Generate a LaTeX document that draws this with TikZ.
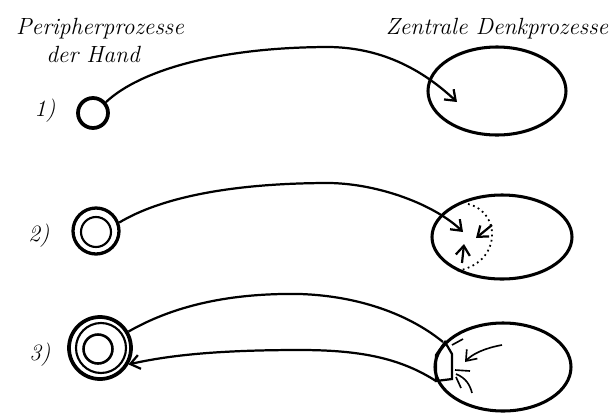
\documentclass[tikz,border=0pt]{standalone}
\usepackage{tikz}
\usetikzlibrary{shapes.geometric,arrows.meta}

\begin{document}
\begin{tikzpicture}[x=.03cm,y=-.03cm,line width=1.9pt,font=\fontsize{20}{24}\selectfont\itshape,
  hand/.style={circle,draw,line width=3.2pt,inner sep=0pt},
  ring/.style={circle,draw,line width=1.8pt,inner sep=0pt},
  denk/.style={ellipse,draw,line width=2.6pt,inner sep=0pt},
  pfeil/.style={-{Straight Barb[length=8pt,width=12pt]}},
  lbl/.style={inner sep=0pt}]
\useasboundingbox (0,0) rectangle (616,412);
\node[lbl] (titelL) at (100,29) {Peripherprozesse};
\node[lbl] (titelL2) at (93,54) {der Hand};
\node[lbl] (titelR) at (497,29) {Zentrale Denkprozesse};
% 1)
\node[lbl] (nr1) at (45,111) {1)};
\node[hand,minimum size=.9cm] (hand1) at (93,113) {};
\node[denk,minimum width=4.14cm,minimum height=2.64cm] (denk1) at (497,91) {};
\coordinate (ziel1) at (457,102);
\draw[pfeil] (hand1.40) .. controls (140,70) and (220,47) .. (330,47) .. controls (385,48) and (425,72) .. (ziel1);
% 2)
\node[lbl] (nr2) at (39,236) {2)};
\node[hand,line width=2.8pt,minimum size=1.38cm] (hand2) at (96,231) {};
\node[ring,minimum size=.9cm] (ring2) at (96,232) {};
\node[denk,minimum width=4.2cm,minimum height=2.52cm] (denk2) at (502,237) {};
\coordinate (ziel2) at (463,232);
\draw[pfeil] (hand2.20) .. controls (160,198) and (230,183) .. (330,183) .. controls (380,184) and (435,205) .. (ziel2);
\draw[line width=1.5pt,dash pattern=on 1.5pt off 3pt] (468,204) .. controls (502,212) and (502,264) .. (456,271);
\draw[pfeil] (492,225) -- (476,238);
\draw[pfeil] (462,263) -- (464,244);
% 3)
\node[lbl] (nr3) at (40,355) {3)};
\node[hand,minimum size=1.86cm] (hand3) at (100,348) {};
\node[ring,minimum size=1.5cm] (ring3a) at (101,348) {};
\node[ring,line width=2.2pt,minimum size=.87cm] (ring3b) at (98,349) {};
\node[denk,minimum width=4.08cm,minimum height=2.64cm] (denk3) at (503,367) {};
\coordinate (kante3o) at (443,342);
\coordinate (kante3u) at (436,381);
\draw (hand3.30) .. controls (180,302) and (240,293) .. (300,294) .. controls (360,296) and (410,315) .. (kante3o);
\draw[pfeil] (kante3u) .. controls (400,358) and (360,350) .. (300,350) .. controls (220,350) and (170,355) .. (hand3.-30);
\draw (kante3u) -- (436,355) -- (445,342) -- (452,354) -- (452,379) -- cycle;
\draw[line width=1.4pt] (452,345) -- (463,339);
\draw[pfeil,line width=1.4pt] (502,345) .. controls (485,348) and (472,354) .. (465,362);
\draw[line width=1.4pt] (455,370) -- (470,371) (456,374) .. controls (466,378) and (470,385) .. (472,393) (456,377) -- (461,388);
\end{tikzpicture}
\end{document}
